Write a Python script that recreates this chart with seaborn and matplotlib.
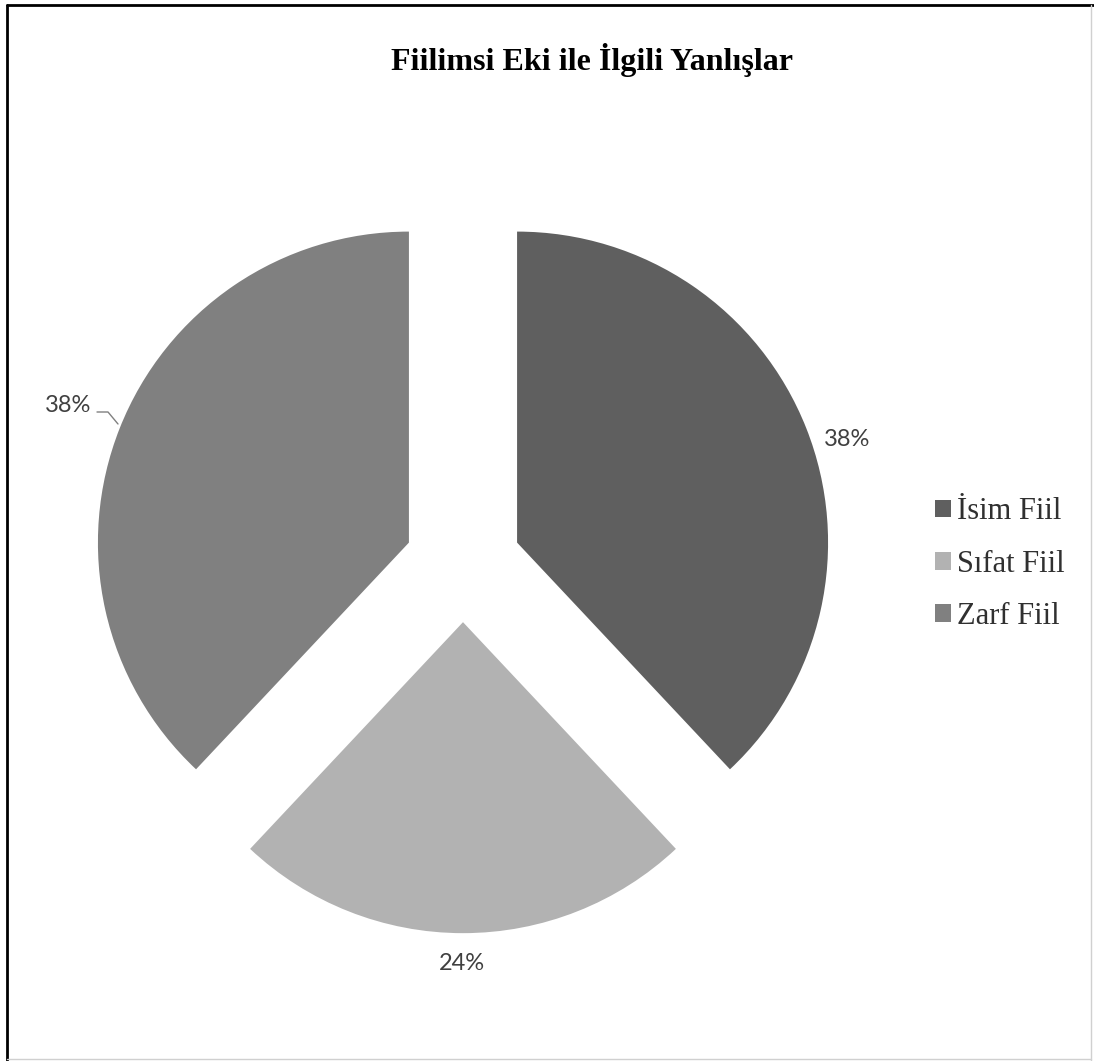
import matplotlib
matplotlib.use("Agg")
import matplotlib.pyplot as plt
import seaborn as sns
from matplotlib.patches import Patch
from matplotlib.lines import Line2D

categories = ["İsim Fiil", "Sıfat Fiil", "Zarf Fiil"]
values = [38, 24, 38]
colors = ["#5f5f5f", "#b2b2b2", "#808080"]
title = "Fiilimsi Eki ile İlgili Yanlışlar"

sns.set_theme(style="white")
plt.rcParams['font.family'] = ['DejaVu Sans']

W, H = 1094, 1061
fig = plt.figure(figsize=(W / 100, H / 100), dpi=100)
fig.patch.set_facecolor("white")

R = 311.0
cx, cy = 463.0, 564.0
half = 400.0
ax = fig.add_axes([(cx - half) / W, (H - cy - half) / H, 2 * half / W, 2 * half / H])

wedges, texts = ax.pie(
    values, colors=colors, startangle=90, counterclock=False,
    explode=[0.187] * len(values), radius=1.0,
    wedgeprops=dict(linewidth=0),
    labels=[f"{v}%" for v in values], labeldistance=1.1,
    textprops=dict(family="Lato", fontsize=17, color="#404040"),
)
lim = half / R
ax.set_xlim(-lim, lim)
ax.set_ylim(-lim, lim)
ax.set_aspect("equal")
ax.axis("off")

def d(px, py):
    return ((px - cx) / R, (cy - py) / R)

label_px = [(847, 439), (462, 963), (68, 405)]
for t, (px, py) in zip(texts, label_px):
    t.set_position(d(px, py))
    t.set_ha("center")
    t.set_va("center")

# leader line for Zarf label
pts = [d(97, 412), d(108, 412), d(118, 424)]
ax.plot([p[0] for p in pts], [p[1] for p in pts], color="#808080", lw=1.0)

fig.text(592 / W, 1 - 60 / H, title, ha="center", va="center",
         family="Liberation Serif", fontweight="bold", fontsize=23, color="black")

handles = [Patch(facecolor=c, edgecolor="none") for c in colors]
leg = fig.legend(handles, categories, loc="center left",
                 bbox_to_anchor=(935 / W, 1 - 564 / H), frameon=False,
                 prop=dict(family="Liberation Serif", size=22),
                 handlelength=0.52, handleheight=0.52, handletextpad=0.2,
                 labelspacing=0.76, borderpad=0, borderaxespad=0)
for t in leg.get_texts():
    t.set_color("#303030")

# figure frame
fig.add_artist(Line2D([7 / W, 7 / W], [0, 1 - 5 / H], transform=fig.transFigure, color="black", lw=2))
fig.add_artist(Line2D([7 / W, 1], [1 - 5 / H, 1 - 5 / H], transform=fig.transFigure, color="black", lw=2))
fig.add_artist(Line2D([1091 / W, 1091 / W], [0, 1 - 5 / H], transform=fig.transFigure, color="#d0d0d0", lw=1))
fig.add_artist(Line2D([7 / W, 1091 / W], [2 / H, 2 / H], transform=fig.transFigure, color="#d0d0d0", lw=1))

fig.savefig("out.png", dpi=100, facecolor="white")
